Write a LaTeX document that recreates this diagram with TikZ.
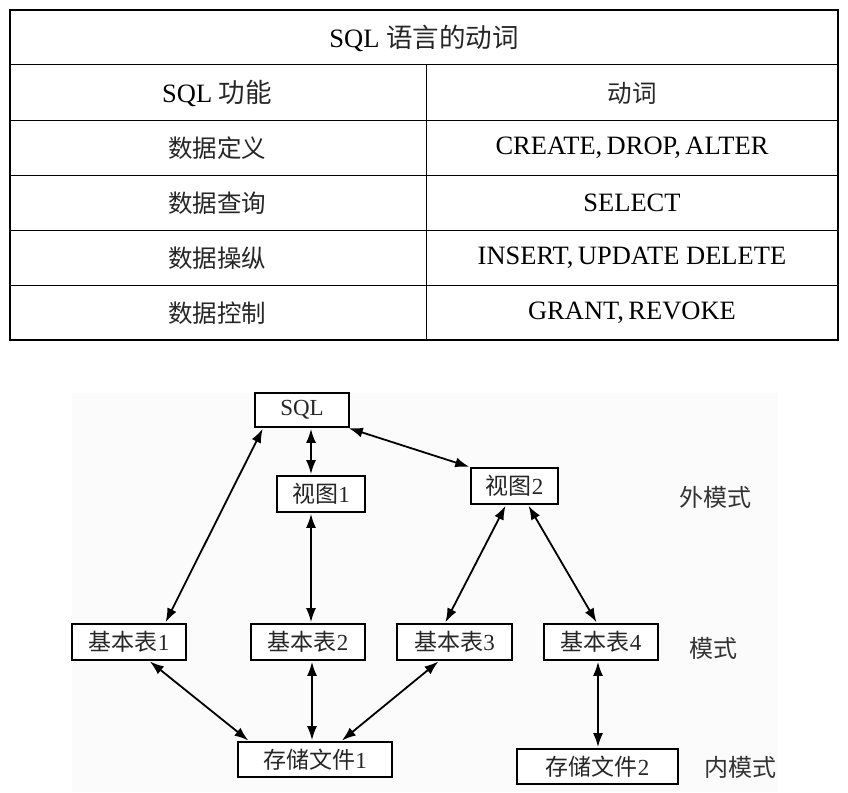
\documentclass[tikz,border=0pt]{standalone}
\usepackage{fontspec}
\setmainfont{Liberation Serif}
\newfontfamily\cjk{Noto Sans CJK SC}
\usetikzlibrary{arrows.meta}
\newcommand\zhs[1]{{\cjk #1}}
\tikzset{
  tabtxt/.style={anchor=center, inner sep=0pt, font=\fontsize{26.5}{30}\selectfont, text=black},
  tabcjk/.style={anchor=center, inner sep=0pt, font=\fontsize{24.5}{28}\cjk, text=black!85},
  box/.style={draw=black, line width=1.7pt, fill=white, minimum height=35pt, inner sep=0pt, anchor=center, font=\fontsize{23}{26}\selectfont, text=black!85},
  lvl/.style={anchor=center, inner sep=0pt, font=\fontsize{24}{28}\cjk, text=black!80},
  dbl/.style={line width=1.8pt, {Latex[length=14pt,width=10pt]}-{Latex[length=14pt,width=10pt]}, shorten <=1pt, shorten >=1pt}
}
\begin{document}
\begin{tikzpicture}[x=1pt,y=-1pt]
\useasboundingbox (0,0) rectangle (848,792);
\fill[white] (0,0) rectangle (848,792);
% faint background of the diagram area
\fill[black!1.5] (72,393) rectangle (778,792);

% ---------- table ----------
\draw[line width=1pt] (10,65) -- (838,65);
\foreach \yy in {120,175,230,285} \draw[line width=1pt] (10,\yy) -- (838,\yy);
\draw[line width=1pt] (426,65) -- (426,340);
\draw[line width=2pt] (10,10) rectangle (838,340);

\node[tabtxt] (title) at (424,38) {SQL \zhs{\color{black!85}语言的动词}};
\node[tabtxt] (h1) at (217,93) {SQL \zhs{\color{black!85}功能}};
\node[tabcjk] (h2) at (632,93) {动词};
\node[tabcjk] (r1a) at (217,148) {数据定义};
\node[tabtxt] (r1b) at (632,148) {CREATE,\,DROP,\,ALTER};
\node[tabcjk] (r2a) at (217,203) {数据查询};
\node[tabtxt] (r2b) at (632,203) {SELECT};
\node[tabcjk] (r3a) at (217,258) {数据操纵};
\node[tabtxt] (r3b) at (632,258) {INSERT,\,UPDATE DELETE};
\node[tabcjk] (r4a) at (217,313) {数据控制};
\node[tabtxt] (r4b) at (632,313) {GRANT,\,REVOKE};

% ---------- diagram ----------
\node[box, minimum width=94pt, minimum height=34pt] (sql) at (302,410) {SQL};
\node[box, minimum width=88pt, minimum height=36pt] (v1) at (321,494) {\zhs{视图}1};
\node[box, minimum width=87pt, minimum height=36pt] (v2) at (514.5,486) {\zhs{视图}2};
\node[box, minimum width=114pt, minimum height=36pt] (t1) at (129,642) {\zhs{基本表}1};
\node[box, minimum width=114pt, minimum height=36pt] (t2) at (308,642) {\zhs{基本表}2};
\node[box, minimum width=115pt, minimum height=36pt] (t3) at (454.5,642) {\zhs{基本表}3};
\node[box, minimum width=114pt, minimum height=36pt] (t4) at (601,642) {\zhs{基本表}4};
\node[box, minimum width=154pt, minimum height=35pt] (f1) at (315,759.5) {\zhs{存储文件}1};
\node[box, minimum width=161pt, minimum height=35pt] (f2) at (597.5,766.5) {\zhs{存储文件}2};

\node[lvl] (ext) at (715,497) {外模式};
\node[lvl] (con) at (713,648) {模式};
\node[lvl] (int) at (740,767) {内模式};

\draw[dbl] ([xshift=9pt]sql.south west) -- ([xshift=94pt]t1.north west);
\draw[dbl] ([xshift=9pt]sql.south) -- ([xshift=-10pt]v1.north);
\draw[dbl] ([xshift=-2pt]sql.south east) -- (v2.north west);
\draw[dbl] ([xshift=-10pt]v1.south) -- ([xshift=3pt]t2.north);
\draw[dbl] ([xshift=-8.5pt]v2.south) -- ([xshift=-9.5pt]t3.north);
\draw[dbl] ([xshift=13.5pt]v2.south) -- ([xshift=-4pt]t4.north);
\draw[dbl] ([xshift=78pt]t1.south west) -- ([xshift=12pt]f1.north west);
\draw[dbl] ([xshift=4pt]t2.south) -- ([xshift=-3pt]f1.north);
\draw[dbl] ([xshift=43pt]t3.south west) -- ([xshift=104pt]f1.north west);
\draw[dbl] ([xshift=-3pt]t4.south) -- ([xshift=0.5pt]f2.north);
\end{tikzpicture}
\end{document}
